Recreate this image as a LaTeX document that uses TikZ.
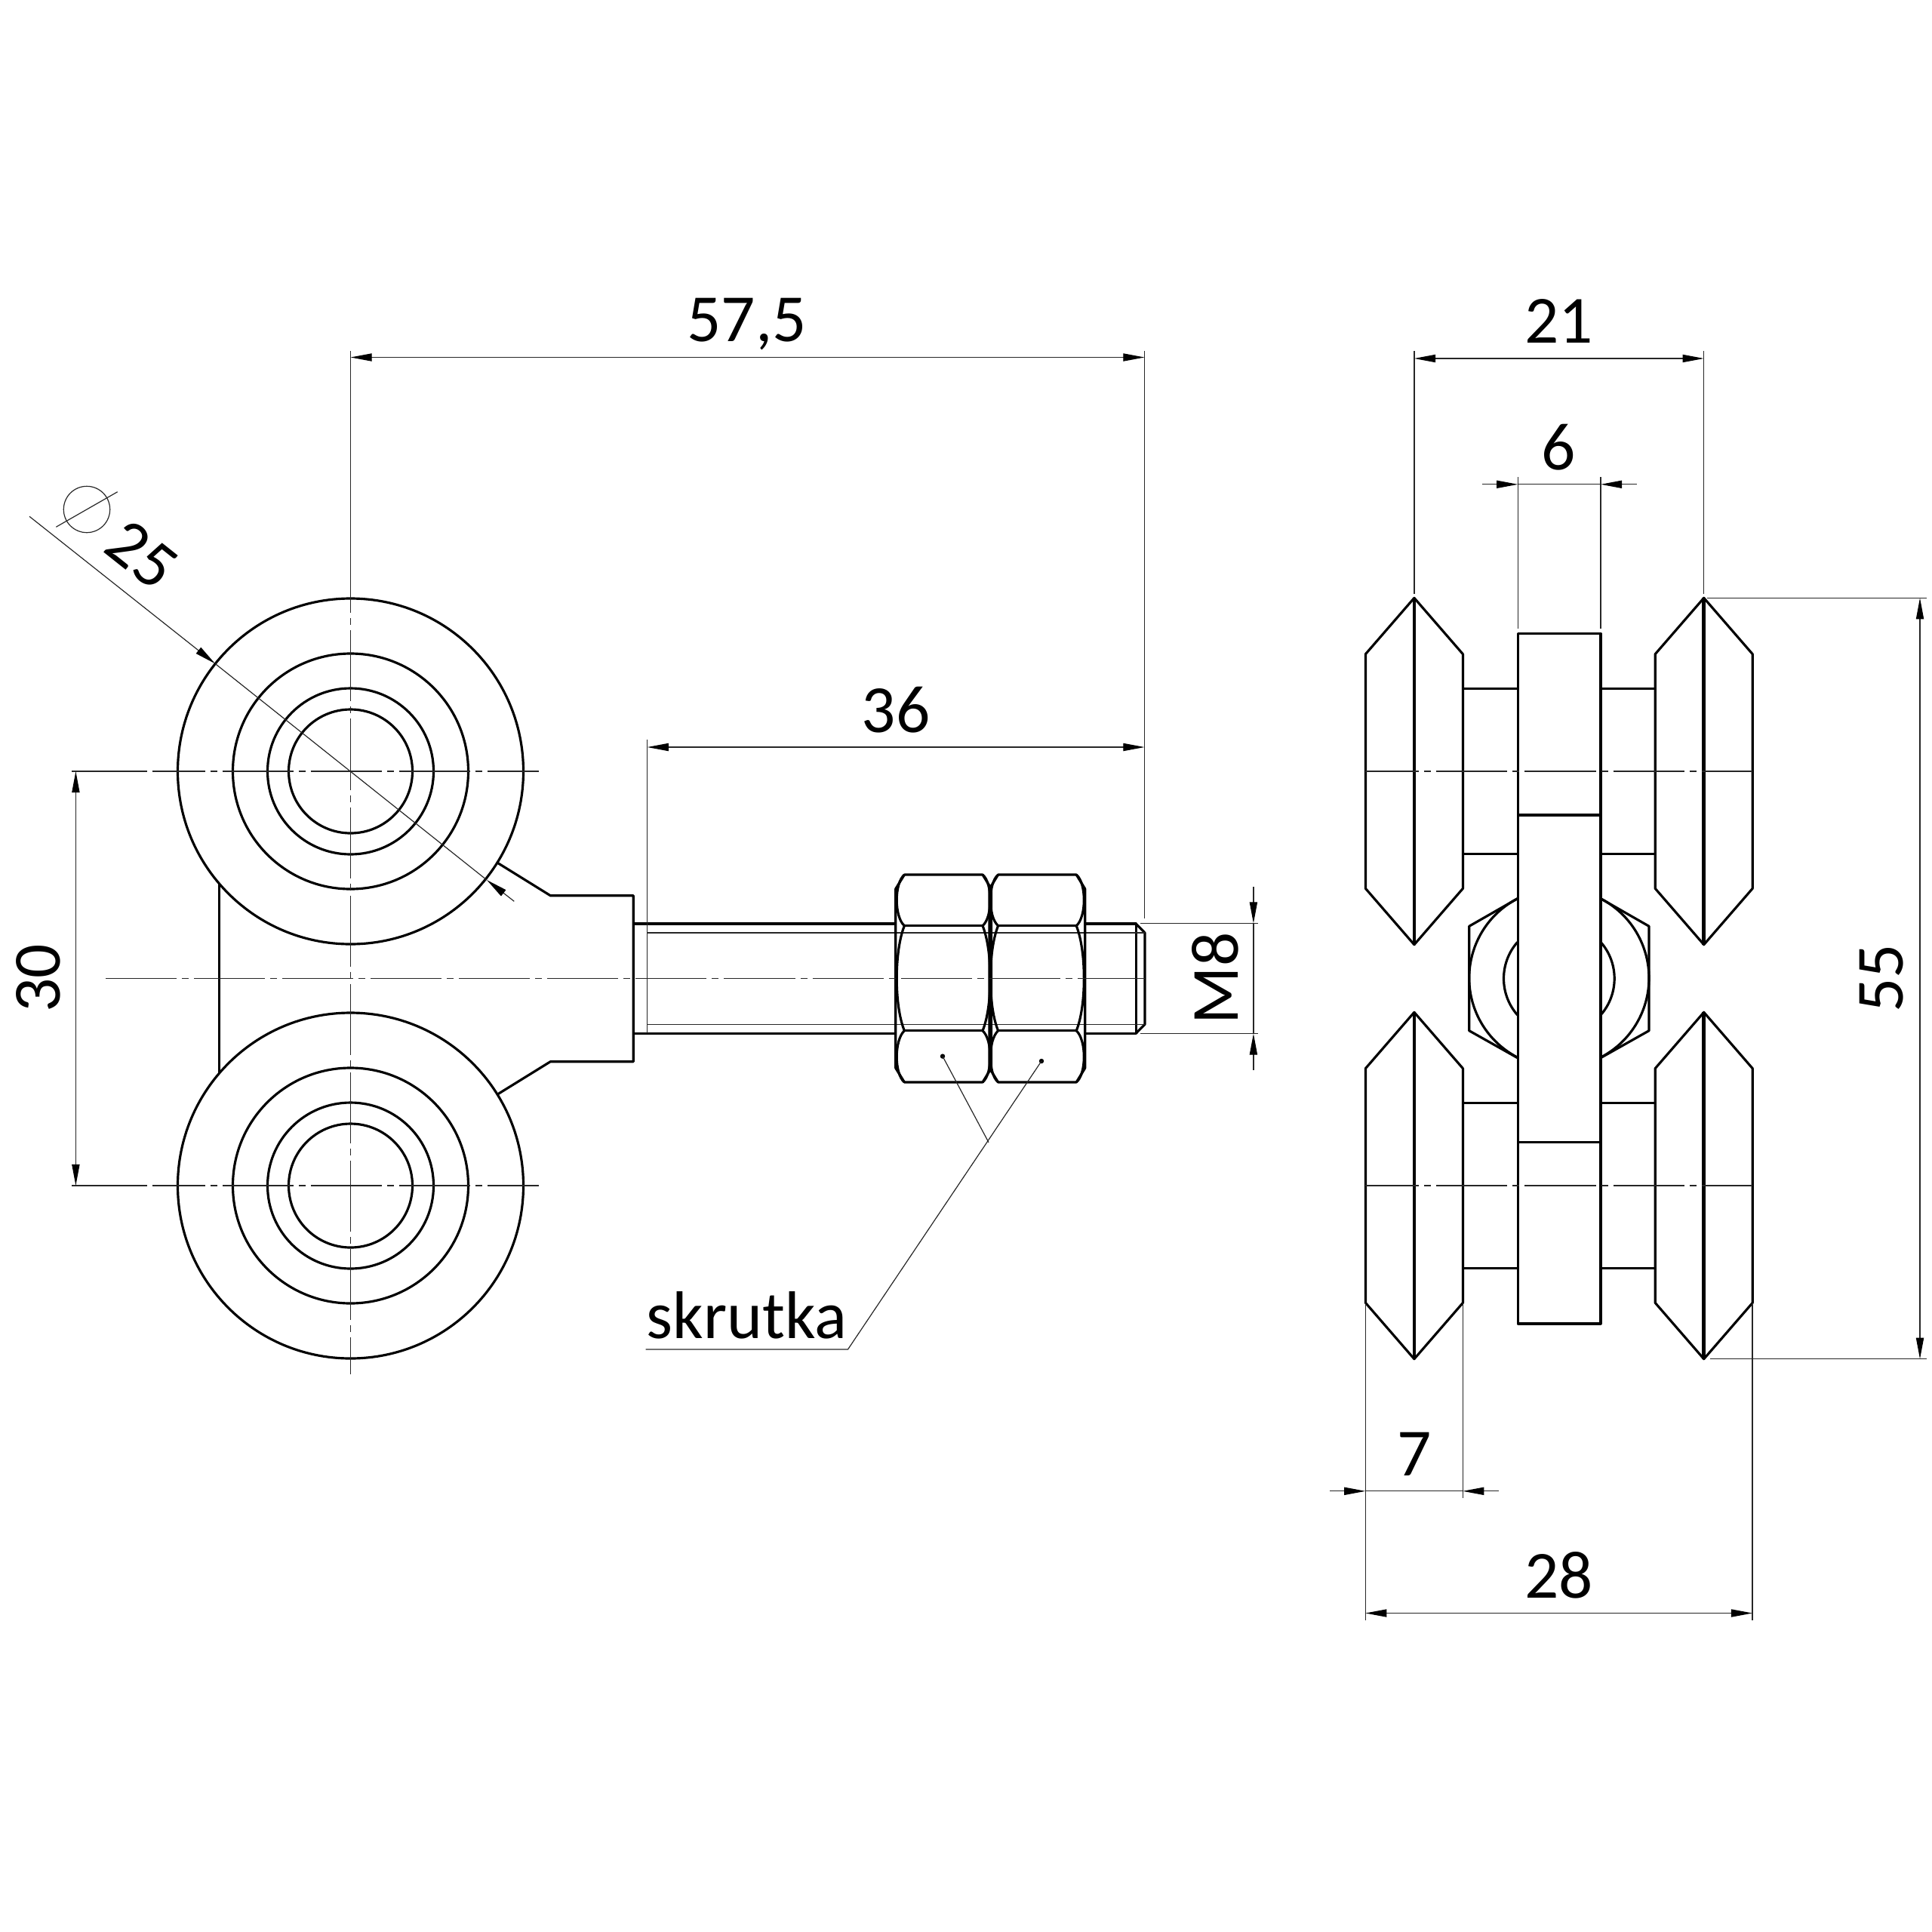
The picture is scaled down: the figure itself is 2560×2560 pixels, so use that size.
\documentclass[tikz,border=0pt]{standalone}
\usepackage{fontspec}
\setmainfont{Carlito}
\usetikzlibrary{arrows.meta}

\tikzset{
  outline/.style={line width=0.9pt, line join=round},
  heavy/.style={line width=1.3pt},
  thin line/.style={line width=0.34pt, black!85},
  axis line/.style={line width=0.34pt, black!85, dash pattern=on 0.94cm off 0.07cm on 0.09cm off 0.07cm},
  dimline/.style={line width=0.34pt, black!85, {Triangle[length=8pt,width=2.9pt,black]}-{Triangle[length=8pt,width=2.9pt,black]}},
  endarrow/.style={line width=0.34pt, black!85, -{Triangle[length=8pt,width=2.9pt,black]}},
  label/.style={font=\fontsize{25.4}{30}\selectfont, inner sep=0pt}
}

\begin{document}
\begin{tikzpicture}[x=0.01cm, y=-0.01cm]

    \useasboundingbox (0,0) rectangle (2560,2560);

    % --- Coordinates ---
    \coordinate (TopWheel) at (464.5,1022);
    \coordinate (LowWheel) at (464.5,1571);
    \coordinate (HexCentre) at (2065.8,1296.7);

    % --- Left view: wheels ---
    \foreach \wheel in {TopWheel,LowWheel} {
        \draw[outline] (\wheel) circle (229);
        \draw[outline] (\wheel) circle (156);
        \draw[outline] (\wheel) circle (110);
        \draw[outline] (\wheel) circle (82);
    }

    % Body between the wheels
    \draw[outline] (290.7,1172) -- (290.7,1421);
    \draw[outline] (659.3,1143.3) -- (729.3,1186.7) -- (839.3,1186.7) -- (839.3,1406.7) -- (729.3,1406.7) -- (659.3,1450);

    % --- Threaded stud ---
    \draw[outline] (839.3,1224) -- (1186.8,1224);
    \draw[outline] (839.3,1369.3) -- (1186.8,1369.3);
    \draw[outline] (1437.7,1224) -- (1505.2,1224) -- (1505.2,1369.3) -- (1437.7,1369.3);
    \draw[outline] (1505.2,1224) -- (1517,1236) -- (1517,1357.3) -- (1505.2,1369.3);
    \draw[thin line] (857.7,1236) -- (1517,1236);
    \draw[thin line] (857.7,1357.3) -- (1517,1357.3);

    % --- Two nuts ---
    \foreach \nutx in {1186.8,1311} {
        \begin{scope}[shift={(\nutx,0)}]
            \draw[outline] (11.6,1159) -- (115.2,1159) -- (126.7,1177.7) -- (126.7,1415.3) -- (115.2,1434) -- (11.6,1434) -- (0,1415.3) -- (0,1177.7) -- cycle;
            \draw[outline] (11.6,1226.7) -- (115.2,1226.7);
            \draw[outline] (11.6,1365.7) -- (115.2,1365.7);
            \foreach \edge/\ctrl in {11.6/-2,115.2/128.7} {
                \draw[outline] (\edge,1159) .. controls (\ctrl,1170) and (\ctrl,1215) .. (\edge,1226.7);
                \draw[outline] (\edge,1226.7) .. controls (\ctrl,1260) and (\ctrl,1333) .. (\edge,1365.7);
                \draw[outline] (\edge,1365.7) .. controls (\ctrl,1378) and (\ctrl,1423) .. (\edge,1434);
            }
        \end{scope}
    }

    % --- Right view: hexagon and its arcs behind the plate ---
    \draw[outline] (2010.7,1190.7) -- (1946.7,1227.3) -- (1946.7,1365.7) -- (2010.7,1401.7);
    \draw[outline] (2121,1190.7) -- (2185,1227.3) -- (2185,1365.7) -- (2121,1401.7);
    \draw[outline] (2010.7,1190.7) arc (242.6:117.4:118.5);
    \draw[outline] (2121,1190.7) arc (-62.6:62.6:118.5);
    \draw[outline] (2010.7,1248.3) arc (221.3:138.7:73.2);
    \draw[outline] (2121,1248.3) arc (-41.3:41.3:73.2);

    % --- Right view: four wheels with their axles ---
    \foreach \wheely in {1022,1571} {
        \foreach \wheelx in {1873.9,2257.7} {
            \draw[outline] (\wheelx-64.5,\wheely-155.3) -- (\wheelx,\wheely-229.7) -- (\wheelx+64.5,\wheely-155.3) -- (\wheelx+64.5,\wheely+155.3) -- (\wheelx,\wheely+229.7) -- (\wheelx-64.5,\wheely+155.3) -- cycle;
            \draw[heavy] (\wheelx,\wheely-229.7) -- (\wheelx,\wheely+229.7);
        }
        \draw[outline] (1938.4,\wheely-109.5) -- (2011.3,\wheely-109.5);
        \draw[outline] (1938.4,\wheely+109.5) -- (2011.3,\wheely+109.5);
        \draw[outline] (2121,\wheely-109.5) -- (2193.2,\wheely-109.5);
        \draw[outline] (2121,\wheely+109.5) -- (2193.2,\wheely+109.5);
    }

    % Centre plate
    \draw[outline] (2011.3,839.3) rectangle (2121,1754);
    \draw[outline] (2011.3,1080) -- (2121,1080);
    \draw[outline] (2011.3,1513.5) -- (2121,1513.5);

    % --- Centre lines ---
    \draw[axis line] (140,1296.7) -- (1517,1296.7);
    \draw[axis line, dash phase=0.24cm] (201.7,1022) -- (714,1022);
    \draw[axis line, dash phase=0.24cm] (201.7,1571) -- (714,1571);
    \draw[axis line] (464.5,718.3) -- (464.5,1821);
    \draw[axis line, dash phase=0.227cm] (1809,1022) -- (2322,1022);
    \draw[axis line, dash phase=0.227cm] (1809,1571) -- (2322,1571);

    % --- Extension lines ---
    \draw[thin line] (464.5,465) -- (464.5,718.3);
    \draw[thin line] (1516.5,465) -- (1516.5,1217);
    \draw[thin line] (857.7,980) -- (857.7,1369);
    \draw[thin line] (1873.9,465) -- (1873.9,787);
    \draw[thin line] (2257.7,465) -- (2257.7,787);
    \draw[thin line] (2011.3,632) -- (2011.3,833);
    \draw[thin line] (2121,632) -- (2121,833);
    \draw[thin line] (2262,792.3) -- (2553,792.3);
    \draw[thin line] (2266,1800.7) -- (2553,1800.7);
    \draw[thin line] (1809.3,1726.5) -- (1809.3,2147);
    \draw[thin line] (1938.2,1726.5) -- (1938.2,1985);
    \draw[thin line] (2322,1726.5) -- (2322,2147);
    \draw[thin line] (1511,1223.5) -- (1667,1223.5);
    \draw[thin line] (1511,1369.5) -- (1667,1369.5);
    \draw[thin line] (95,1022) -- (195,1022);
    \draw[thin line] (95,1571) -- (195,1571);

    % --- Dimensions ---
    \draw[dimline] (464.5,473.5) -- (1516.5,473.5);
    \draw[dimline] (857.7,990) -- (1516.5,990);
    \draw[dimline] (100.4,1022) -- (100.4,1571);
    \draw[dimline] (1873.9,475) -- (2257.7,475);
    \draw[dimline] (1809.3,2137.5) -- (2322,2137.5);
    \draw[dimline] (2544,792.3) -- (2544,1800.7);

    % Arrows from the outside
    \draw[endarrow] (1964,641.8) -- (2011.3,641.8);
    \draw[endarrow] (2168.5,641.8) -- (2121,641.8);
    \draw[thin line] (2011.3,641.8) -- (2121,641.8);
    \draw[endarrow] (1762,1975.8) -- (1809.3,1975.8);
    \draw[endarrow] (1985.6,1975.8) -- (1938.2,1975.8);
    \draw[thin line] (1809.3,1975.8) -- (1938.2,1975.8);
    \draw[endarrow] (1660.9,1175) -- (1660.9,1223.5);
    \draw[endarrow] (1660.9,1418) -- (1660.9,1369.5);
    \draw[thin line] (1660.9,1223.5) -- (1660.9,1369.5);

    % Diameter line through the top wheel
    \draw[endarrow] (39,684.3) -- (285,879.3);
    \draw[endarrow] (681.3,1194.3) -- (645,1166);
    \draw[thin line] (285,879.3) -- (645,1166);
    \draw[thin line] (115,675) circle (30.7);
    \draw[thin line] (74.3,698.3) -- (155.7,651.7);

    % Leader to the nuts
    \fill (1249,1399.6) circle (3.2);
    \fill (1380,1406) circle (3.2);
    \draw[thin line] (1249,1399.6) -- (1310,1513.7);
    \draw[thin line] (1380,1406) -- (1123.5,1788) -- (855.7,1788);

    % --- Labels ---
    \node[label] (LenTotal) at (989.5,430) {57,5};
    \node[label] (LenStud) at (1187,941) {36};
    \node[label, rotate=90] (Pitch) at (50.6,1296.5) {30};
    \node[label, rotate=90] (Thread) at (1610,1296.5) {M8};
    \node[label, rotate=-38.5] (Dia) at (188,735) {25};
    \node[label] (Name) at (989.5,1743) {skrutka};
    \node[label] (WidthAxle) at (2065.5,426) {21};
    \node[label] (WidthPlate) at (2065.5,593) {6};
    \node[label] (WidthWheel) at (1874.5,1927) {7};
    \node[label] (WidthAll) at (2065.5,2087) {28};
    \node[label, rotate=90] (Height) at (2493,1296.5) {55};

\end{tikzpicture}
\end{document}
